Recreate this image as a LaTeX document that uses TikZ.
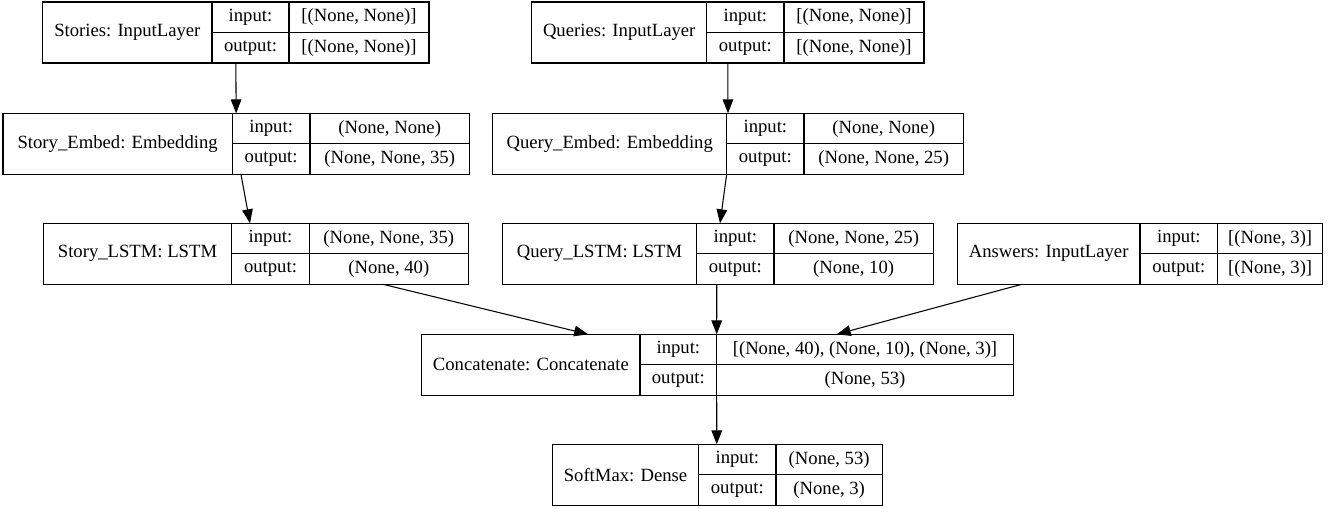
\documentclass[tikz,border=0pt]{standalone}
\usepackage{fontspec}
\setmainfont{Liberation Serif}
\usepackage{tikz}
\usetikzlibrary{arrows.meta, fit}

% one keras layer: name, left, top, 1st rule, 2nd rule, right, title, input, output
\newcommand\kerasbox[9]{%
  \node[layer, fit={(#2,#3) (#6,#3+61)}] (#1) {};
  \node[cell, fit={(#2,#3) (#4,#3+61)}] (#1-t) {};
  \node[cell, fit={(#4,#3) (#5,#3+30.5)}] (#1-il) {};
  \node[cell, fit={(#4,#3+30.5) (#5,#3+61)}] (#1-ol) {};
  \node[cell, fit={(#5,#3) (#6,#3+30.5)}] (#1-iv) {};
  \node[cell, fit={(#5,#3+30.5) (#6,#3+61)}] (#1-ov) {};
  \node[txt] (#1-tt) at (#1-t) {#7};
  \node[txt] (#1-ilt) at (#1-il) {input:};
  \node[txt] (#1-olt) at (#1-ol) {output:};
  \node[txt] (#1-ivt) at (#1-iv) {#8};
  \node[txt] (#1-ovt) at (#1-ov) {#9};
}

\begin{document}
\begin{tikzpicture}[
  x=0.75pt, y=-0.75pt, font=\fontsize{14}{16}\selectfont,
  >={Triangle[length=10.5pt, width=8pt]}, line width=0.8pt,
  layer/.style={inner sep=0pt, outer sep=0pt},
  cell/.style ={draw, inner sep=0pt, outer sep=0pt},
  txt/.style  ={inner sep=0pt, anchor=center}]
\useasboundingbox (0,0) rectangle (1329,508);
\kerasbox{stories}{42.7}{2}{212}{289}{429}{Stories: InputLayer}{[(None, None)]}{[(None, None)]}
\kerasbox{queries}{531.7}{2}{706.7}{784}{924}{Queries: InputLayer}{[(None, None)]}{[(None, None)]}
\kerasbox{storyemb}{3}{113.3}{232.3}{310}{469.3}{Story\_Embed: Embedding}{(None, None)}{(None, None, 35)}
\kerasbox{queryemb}{492.7}{113.3}{726.7}{804}{963.3}{Query\_Embed: Embedding}{(None, None)}{(None, None, 25)}
\kerasbox{storylstm}{43.3}{223.3}{231.7}{309.3}{468.3}{Story\_LSTM: LSTM}{(None, None, 35)}{(None, 40)}
\kerasbox{querylstm}{502.3}{223.3}{696.7}{774}{933.3}{Query\_LSTM: LSTM}{(None, None, 25)}{(None, 10)}
\kerasbox{answers}{957.3}{223.3}{1140}{1217.7}{1322.7}{Answers: InputLayer}{[(None, 3)]}{[(None, 3)]}
\kerasbox{concat}{421.7}{334.3}{640}{716.7}{1013.3}{Concatenate: Concatenate}{[(None, 40), (None, 10), (None, 3)]}{(None, 53)}
\kerasbox{softmax}{552.3}{444.3}{698.7}{776}{882.3}{SoftMax: Dense}{(None, 53)}{(None, 3)}
\draw[->] (stories.south) -- (storyemb.north);
\draw[->] (queries.south) -- (queryemb.north);
\draw[->] ([xshift=3.6pt]storyemb.south) -- ([xshift=-4.35pt]storylstm.north);
\draw[->] ([xshift=-1pt]queryemb.south) -- ([xshift=1.65pt]querylstm.north);
\draw[->] ([xshift=95.4pt]storylstm.south) -- ([xshift=-97pt]concat.north);
\draw[->] ([xshift=-0.8pt]querylstm.south) -- ([xshift=-0.6pt]concat.north);
\draw[->] ([xshift=-88.7pt]answers.south) -- ([xshift=89.4pt]concat.north);
\draw[->] ([xshift=-0.6pt]concat.south) -- ([xshift=-0.4pt]softmax.north);
\end{tikzpicture}
\end{document}
